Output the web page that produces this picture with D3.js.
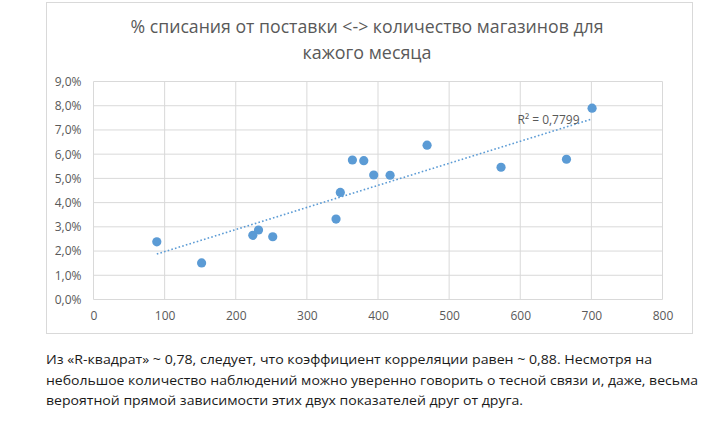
<!DOCTYPE html>
<html>
<head>
<meta charset="utf-8">
<script src="https://cdnjs.cloudflare.com/ajax/libs/d3/7.8.5/d3.min.js"></script>
<style>
    body { margin:0; background:#fff; }
    svg { display:block; }
</style>
</head>
<body>
<svg id="chart" width="720" height="423"></svg>
<script>
// количество магазинов (x) и % списания (y)
var stores  = [89, 152, 224, 232, 252, 341, 347, 364, 380, 394, 417, 469, 573, 665, 701];
var writeOff = [2.38, 1.51, 2.65, 2.87, 2.59, 3.32, 4.42, 5.76, 5.73, 5.14, 5.13, 6.37, 5.46, 5.79, 7.90];
var xTicks = [0, 100, 200, 300, 400, 500, 600, 700, 800];
var yTicks = [0, 1, 2, 3, 4, 5, 6, 7, 8, 9];
var titleLines = ["% списания от поставки <-> количество магазинов для", "кажого месяца"];
var r2Label = "R² = 0,7799";
var noteLines = [
    "Из «R-квадрат» ~ 0,78, следует, что коэффициент корреляции равен ~ 0,88. Несмотря на",
    "небольшое количество наблюдений можно уверенно говорить о тесной связи и, даже, весьма",
    "вероятной прямой зависимости этих двух показателей друг от друга."
];

var svg = d3.select("#chart");
var ruFmt = d3.formatLocale({decimal: ",", thousands: " ", grouping: [3], currency: ["", ""]});

// рамка диаграммы
svg.append("rect")
    .attr("x", 46.5).attr("y", 2.5)
    .attr("width", 646).attr("height", 331)
    .attr("fill", "#fff").attr("stroke", "#d9d9d9");

var x = d3.scaleLinear().domain([0, 800]).range([93.5, 662.5]);
var y = d3.scaleLinear().domain([0, 9]).range([299.5, 81.5]);

// сетка
svg.append("g").selectAll("line").data(yTicks).enter().append("line")
    .attr("x1", x(0)).attr("x2", x(800))
    .attr("y1", d => y(d)).attr("y2", d => y(d))
    .attr("stroke", "#d9d9d9").attr("stroke-width", 1);
svg.append("g").selectAll("line").data(xTicks).enter().append("line")
    .attr("y1", y(0)).attr("y2", y(9))
    .attr("x1", d => x(d)).attr("x2", d => x(d))
    .attr("stroke", "#d9d9d9").attr("stroke-width", 1);

// оси
var yAxis = d3.axisLeft(y).tickValues(yTicks).tickSize(0).tickPadding(12)
    .tickFormat(d => ruFmt.format(".1f")(d) + "%");
var xAxis = d3.axisBottom(x).tickValues(xTicks).tickSize(0).tickPadding(12);

var gy = svg.append("g").attr("transform", "translate(" + x(0) + ",0)").call(yAxis);
var gx = svg.append("g").attr("transform", "translate(0," + y(0) + ")").call(xAxis);
[gx, gy].forEach(function(g){
    g.select(".domain").remove();
    g.selectAll("text")
        .attr("fill", "#595959")
        .style("font-family", "'Open Sans', sans-serif")
        .style("font-size", "12px");
});
gx.selectAll("text").attr("dy", "0.71em");

// линия тренда (МНК)
var mx = d3.mean(stores), my = d3.mean(writeOff);
var sxy = d3.sum(stores, (v, i) => (v - mx) * (writeOff[i] - my));
var sxx = d3.sum(stores, v => (v - mx) * (v - mx));
var slope = sxy / sxx, icpt = my - slope * mx;
var xr = d3.extent(stores);
svg.append("line")
    .attr("x1", x(xr[0])).attr("y1", y(icpt + slope * xr[0]))
    .attr("x2", x(xr[1])).attr("y2", y(icpt + slope * xr[1]))
    .attr("stroke", "#5b9bd5").attr("stroke-width", 1.6)
    .attr("stroke-dasharray", "1.6,2.2");

// точки
svg.append("g").selectAll("circle").data(stores).enter().append("circle")
    .attr("cx", d => x(d))
    .attr("cy", (d, i) => y(writeOff[i]))
    .attr("r", 4.6)
    .attr("fill", "#5b9bd5");

svg.append("text")
    .attr("x", 517.5).attr("y", 123.5)
    .attr("fill", "#595959")
    .attr("textLength", 62).attr("lengthAdjust", "spacingAndGlyphs")
    .style("font-family", "'Open Sans', sans-serif").style("font-size", "13px")
    .text(r2Label);

// заголовок
var titleWidths = [473, 129];
svg.selectAll(".title").data(titleLines).enter().append("text")
    .attr("class", "title")
    .attr("x", 367).attr("y", (d, i) => 33 + i * 25.5)
    .attr("text-anchor", "middle")
    .attr("fill", "#595959")
    .attr("textLength", (d, i) => titleWidths[i]).attr("lengthAdjust", "spacingAndGlyphs")
    .style("font-family", "'Open Sans', sans-serif").style("font-size", "19px")
    .text(d => d);

// текст под диаграммой
var noteWidths = [606, 652, 477];
svg.selectAll(".note").data(noteLines).enter().append("text")
    .attr("class", "note")
    .attr("x", 46).attr("y", (d, i) => 364 + i * 20.7)
    .attr("fill", "#1a1a1a")
    .attr("textLength", (d, i) => noteWidths[i]).attr("lengthAdjust", "spacingAndGlyphs")
    .style("font-family", "'Open Sans', sans-serif").style("font-size", "13.5px")
    .text(d => d);
</script>
</body>
</html>
